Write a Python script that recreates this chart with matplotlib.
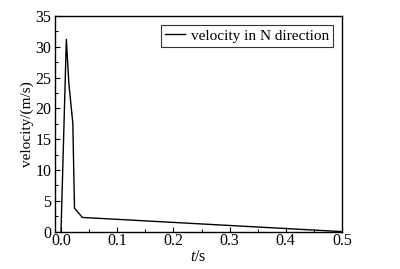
import numpy as np
import matplotlib
matplotlib.use("Agg")
import matplotlib.pyplot as plt
from matplotlib.ticker import MultipleLocator

# time (s) and velocity in N direction (m/s)
t = [0.0, 0.0095, 0.014, 0.021, 0.024, 0.038, 0.5]
v_n = [0.0, 31.2, 24.0, 17.6, 3.8, 2.3, 0.0]

xticks = [0.0, 0.1, 0.2, 0.3, 0.4, 0.5]
yticks = [0, 5, 10, 15, 20, 25, 30, 35]

plt.rcParams['font.family'] = ['Liberation Serif', 'DejaVu Serif']
plt.rcParams['mathtext.fontset'] = 'custom'
plt.rcParams['mathtext.it'] = 'Liberation Serif:italic'
plt.rcParams['mathtext.rm'] = 'Liberation Serif'

fig = plt.figure(figsize=(4.0, 2.69), dpi=100)
ax = fig.add_axes([0.1375, 0.139, 0.7175, 0.8015])

ax.plot(t, v_n, color='black', lw=1.0, label='velocity in N direction')

ax.set_xlim(-0.0107, 0.5)
ax.set_ylim(0, 35)
ax.set_xticks(xticks)
ax.set_xticklabels([f"{x:.1f}" for x in xticks])
ax.set_yticks(yticks)
ax.xaxis.set_minor_locator(MultipleLocator(0.05))
ax.yaxis.set_minor_locator(MultipleLocator(2.5))
ax.tick_params(which='both', direction='in', top=False, right=False, labelsize=11.5)
ax.tick_params(axis='x', pad=1)
ax.tick_params(axis='y', pad=2.5)
ax.tick_params(which='major', length=3.5, width=0.8)
ax.tick_params(which='minor', length=2, width=0.8)
for s in ax.spines.values():
    s.set_linewidth(1.0)

ax.set_xlabel('$t$/s', fontsize=11.5, labelpad=0)
ax.set_ylabel('velocity/(m/s)', fontsize=11, labelpad=1)

leg = ax.legend(loc='upper right', fontsize=11, frameon=True, fancybox=False,
                edgecolor='black', handlelength=1.3, handletextpad=0.4,
                borderpad=0.25, borderaxespad=0.6)
leg.get_frame().set_linewidth(0.8)

fig.savefig('out.png', dpi=100)
